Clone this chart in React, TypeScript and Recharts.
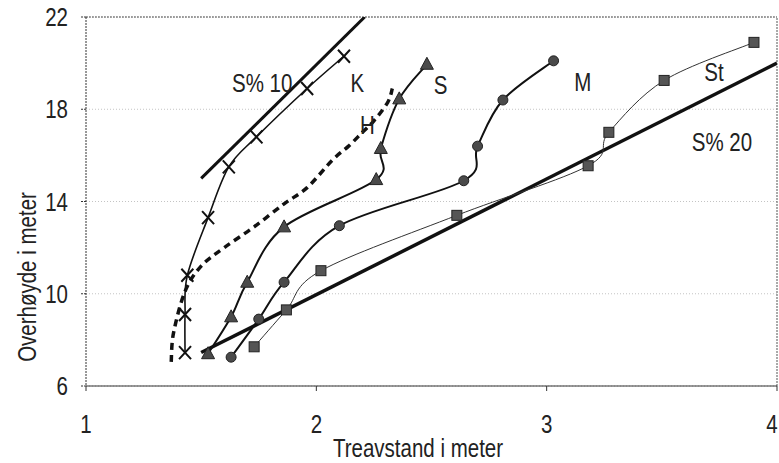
import React from 'react';
import {
  LineChart,
  Line,
  XAxis,
  YAxis,
  CartesianGrid,
  ReferenceLine,
  ReferenceDot,
  Label,
} from 'recharts';

// Treavstand (x, m) og overhøyde (y, m) per treslag
const K_X = [1.43, 1.43, 1.44, 1.53, 1.62, 1.74, 1.96, 2.12];
const K_Y = [7.45, 9.1, 10.8, 13.3, 15.5, 16.8, 18.9, 20.3];

const H_X = [1.37, 1.38, 1.43, 1.5, 1.6, 1.73, 1.86, 1.96, 2.07, 2.14, 2.2, 2.25, 2.31, 2.33];
const H_Y = [7.05, 8.3, 10.1, 11.2, 12.0, 12.9, 13.9, 14.6, 15.8, 16.4, 17.0, 17.5, 18.3, 18.9];

const S_X = [1.53, 1.63, 1.7, 1.86, 2.26, 2.28, 2.36, 2.48];
const S_Y = [7.4, 9.0, 10.5, 12.9, 14.95, 16.3, 18.45, 19.95];

const M_X = [1.63, 1.75, 1.86, 2.1, 2.64, 2.7, 2.81, 3.03];
const M_Y = [7.25, 8.9, 10.5, 12.95, 14.9, 16.4, 18.4, 20.1];

const ST_X = [1.73, 1.87, 2.02, 2.61, 3.18, 3.27, 3.51, 3.9];
const ST_Y = [7.7, 9.3, 11.0, 13.4, 15.55, 17.0, 19.25, 20.9];

// S%-linjer
const S10_X = [1.5, 2.21];
const S10_Y = [15.0, 22.0];
const S20_X = [1.5, 4.0];
const S20_Y = [7.45, 20.0];

const X_TICKS = [1, 2, 3, 4];
const Y_TICKS = [6, 10, 14, 18, 22];

const NOTE_TEXT = ['S% 10', 'K', 'H', 'S', 'M', 'St', 'S% 20'];
const NOTE_X = [1.765, 2.178, 2.222, 2.539, 3.157, 3.726, 3.761];
const NOTE_Y = [19.14, 19.14, 17.32, 19.05, 19.18, 19.62, 16.58];

const FONT = "'Liberation Sans', Arial, sans-serif";

const toRows = (xs: number[], ys: number[]) => xs.map((x, i) => ({ x, y: ys[i] }));

// glattet linje som i Excel (Catmull-Rom gjennom punktene)
const smooth = (context: any) => {
  let pts: number[][] = [];
  return {
    areaStart() {},
    areaEnd() {},
    lineStart() {
      pts = [];
    },
    point(x: number, y: number) {
      pts.push([+x, +y]);
    },
    lineEnd() {
      if (!pts.length) return;
      context.moveTo(pts[0][0], pts[0][1]);
      for (let i = 0; i < pts.length - 1; i++) {
        const p0 = pts[i - 1] || pts[i];
        const p1 = pts[i];
        const p2 = pts[i + 1];
        const p3 = pts[i + 2] || p2;
        context.bezierCurveTo(
          p1[0] + (p2[0] - p0[0]) / 6,
          p1[1] + (p2[1] - p0[1]) / 6,
          p2[0] - (p3[0] - p1[0]) / 6,
          p2[1] - (p3[1] - p1[1]) / 6,
          p2[0],
          p2[1],
        );
      }
    },
  };
};

// smal skrift: Liberation Sans klemt sammen horisontalt
const NarrowText = ({ x, y, anchor = 'middle', rotate = 0, children }: any) => (
  <text
    transform={`translate(${x},${y}) rotate(${rotate}) scale(0.82,1)`}
    textAnchor={anchor}
    fontSize={25}
    fontFamily={FONT}
    fill="#222"
  >
    {children}
  </text>
);

const XTick = ({ x, y, payload }: any) => (
  <NarrowText x={Math.min(x, 772)} y={y + 18}>{payload.value}</NarrowText>
);

const YTick = ({ x, y, payload }: any) => (
  <NarrowText x={x} y={y + 9} anchor="end">{payload.value}</NarrowText>
);

const Cross = ({ cx, cy }: any) => (
  <path
    d={`M${cx - 6},${cy - 6.5}L${cx + 6},${cy + 6.5}M${cx - 6},${cy + 6.5}L${cx + 6},${cy - 6.5}`}
    stroke="#111"
    strokeWidth={2}
  />
);

const Triangle = ({ cx, cy }: any) => (
  <polygon
    points={`${cx},${cy - 7} ${cx - 6.5},${cy + 5} ${cx + 6.5},${cy + 5}`}
    fill="#4a4a4a"
    stroke="#222"
    strokeWidth={1}
  />
);

const Dot = ({ cx, cy }: any) => <circle cx={cx} cy={cy} r={5} fill="#4a4a4a" stroke="#222" strokeWidth={1} />;

const Square = ({ cx, cy }: any) => (
  <rect x={cx - 5} y={cy - 5} width={10} height={10} fill="#555" stroke="#222" strokeWidth={1} />
);

export default function App() {
  return (
    <div style={{ width: 779, height: 463, background: '#fff' }}>
      <style>{'body{margin:0}'}</style>
      <LineChart width={779} height={463} margin={{ top: 17, right: 2, left: 0, bottom: 0 }}>
        <CartesianGrid vertical={false} stroke="#c4c4c4" strokeDasharray="1 2" />
        <XAxis
          type="number"
          dataKey="x"
          domain={[1, 4]}
          ticks={X_TICKS}
          allowDataOverflow
          height={77}
          tickSize={5}
          tickMargin={24}
          stroke="#333"
          tick={<XTick />}
        >
          <Label content={() => <NarrowText x={418} y={457}>Treavstand i meter</NarrowText>} />
        </XAxis>
        <YAxis
          type="number"
          dataKey="y"
          domain={[6, 22]}
          ticks={Y_TICKS}
          allowDataOverflow
          width={86}
          tickSize={5}
          tickMargin={13}
          stroke="#333"
          strokeDasharray="2 1"
          tick={<YTick />}
        >
          <Label content={() => <NarrowText x={36} y={277} rotate={-90}>Overhøyde i meter</NarrowText>} />
        </YAxis>
        <ReferenceLine y={22} stroke="#555" strokeDasharray="2 1" />
        <ReferenceLine x={4} stroke="#555" strokeDasharray="2 1" />

        <Line data={toRows(S10_X, S10_Y)} dataKey="y" type="linear" stroke="#111" strokeWidth={3} dot={false} isAnimationActive={false} />
        <Line data={toRows(S20_X, S20_Y)} dataKey="y" type="linear" stroke="#111" strokeWidth={3.5} dot={false} isAnimationActive={false} />
        <Line
          data={toRows(H_X, H_Y)}
          dataKey="y"
          type={smooth as any}
          stroke="#111"
          strokeWidth={3.5}
          strokeDasharray="7 5"
          dot={false}
          isAnimationActive={false}
        />
        <Line
          data={toRows(ST_X, ST_Y)}
          dataKey="y"
          type={smooth as any}
          stroke="#333"
          strokeWidth={1}
          dot={(p: any) => <Square key={p.index} cx={p.cx} cy={p.cy} />}
          isAnimationActive={false}
        />
        <Line
          data={toRows(M_X, M_Y)}
          dataKey="y"
          type={smooth as any}
          stroke="#111"
          strokeWidth={2}
          dot={(p: any) => <Dot key={p.index} cx={p.cx} cy={p.cy} />}
          isAnimationActive={false}
        />
        <Line
          data={toRows(S_X, S_Y)}
          dataKey="y"
          type={smooth as any}
          stroke="#111"
          strokeWidth={2}
          dot={(p: any) => <Triangle key={p.index} cx={p.cx} cy={p.cy} />}
          isAnimationActive={false}
        />
        <Line
          data={toRows(K_X, K_Y)}
          dataKey="y"
          type={smooth as any}
          stroke="#111"
          strokeWidth={1.6}
          dot={(p: any) => <Cross key={p.index} cx={p.cx} cy={p.cy} />}
          isAnimationActive={false}
        />

        {NOTE_TEXT.map((t, i) => (
          <ReferenceDot
            key={t}
            x={NOTE_X[i]}
            y={NOTE_Y[i]}
            r={0}
            fill="none"
            stroke="none"
            label={{
              content: (p: any) => (
                <NarrowText x={p.viewBox.x + (p.viewBox.width || 0) / 2} y={p.viewBox.y + (p.viewBox.height || 0) / 2 + 9}>
                  {t}
                </NarrowText>
              ),
            }}
          />
        ))}
      </LineChart>
    </div>
  );
}
